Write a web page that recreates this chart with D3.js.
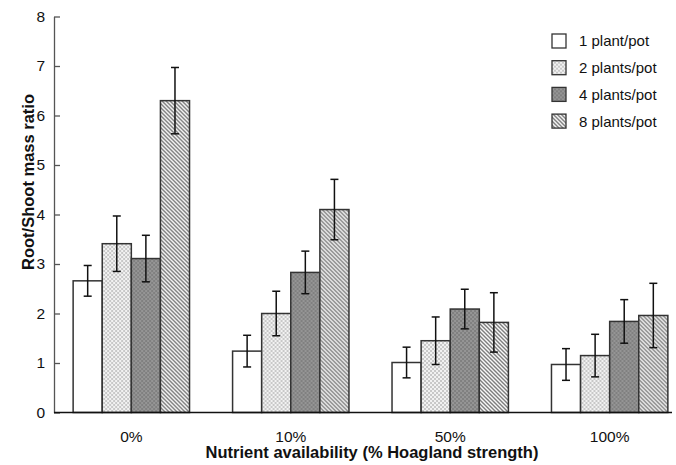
<!DOCTYPE html>
<html>
<head>
<meta charset="utf-8">
<script src="https://cdn.jsdelivr.net/npm/d3@7"></script>
<style>
  body { margin: 0; background: #fff; }
  svg { display: block; font-family: "Liberation Sans", Arial, sans-serif; }
</style>
</head>
<body>
<div id="chart"></div>
<script>
const categories = ["0%", "10%", "50%", "100%"];
const seriesNames = ["1 plant/pot", "2 plants/pot", "4 plants/pot", "8 plants/pot"];
const onePlant = [2.66, 1.24, 1.01, 0.97];
const onePlantErr = [0.31, 0.32, 0.31, 0.32];
const twoPlants = [3.41, 2.00, 1.45, 1.15];
const twoPlantsErr = [0.56, 0.45, 0.48, 0.43];
const fourPlants = [3.11, 2.83, 2.09, 1.84];
const fourPlantsErr = [0.47, 0.43, 0.40, 0.44];
const eightPlants = [6.30, 4.10, 1.82, 1.96];
const eightPlantsErr = [0.67, 0.61, 0.60, 0.65];
const yTicks = [0, 1, 2, 3, 4, 5, 6, 7, 8];

const means = [onePlant, twoPlants, fourPlants, eightPlants];
const errs = [onePlantErr, twoPlantsErr, fourPlantsErr, eightPlantsErr];

const width = 676, height = 465;
const axisX = 54;

const svg = d3.select("#chart").append("svg")
    .attr("width", width)
    .attr("height", height);

// fills
const defs = svg.append("defs");

const light = defs.append("pattern").attr("id", "light")
    .attr("patternUnits", "userSpaceOnUse").attr("width", 4).attr("height", 4);
light.append("rect").attr("width", 4).attr("height", 4).attr("fill", "#f2f2f2");
light.append("rect").attr("width", 2).attr("height", 2).attr("fill", "#c8c8c8");
light.append("rect").attr("x", 2).attr("y", 2).attr("width", 2).attr("height", 2).attr("fill", "#c8c8c8");

const dark = defs.append("pattern").attr("id", "dark")
    .attr("patternUnits", "userSpaceOnUse").attr("width", 4).attr("height", 4);
dark.append("rect").attr("width", 4).attr("height", 4).attr("fill", "#959595");
dark.append("rect").attr("width", 2).attr("height", 2).attr("fill", "#808080");
dark.append("rect").attr("x", 2).attr("y", 2).attr("width", 2).attr("height", 2).attr("fill", "#808080");

const hatch = defs.append("pattern").attr("id", "hatch")
    .attr("patternUnits", "userSpaceOnUse").attr("width", 4).attr("height", 4);
hatch.append("rect").attr("width", 4).attr("height", 4).attr("fill", "#fafafa");
hatch.append("path")
    .attr("d", "M-1,-1L5,5M3,-1L5,1M-1,3L1,5")
    .attr("stroke", "#7c7c7c").attr("stroke-width", 1.4);

const fills = ["#fff", "url(#light)", "url(#dark)", "url(#hatch)"];

const y = d3.scaleLinear().domain([0, 8]).range([412.5, 16.5]);

const x = d3.scaleBand()
    .domain(categories)
    .range([axisX, 687])
    .paddingInner(0.27)
    .paddingOuter(0.12);

const xs = d3.scaleBand()
    .domain(seriesNames)
    .range([0, x.bandwidth()]);

// bars
const groups = svg.append("g").selectAll("g")
    .data(categories)
    .join("g")
    .attr("transform", d => `translate(${x(d)},0)`);

groups.selectAll("rect")
    .data((d, i) => seriesNames.map((s, j) => ({ s, j, v: means[j][i], e: errs[j][i] })))
    .join("rect")
    .attr("x", d => xs(d.s))
    .attr("y", d => y(d.v))
    .attr("width", xs.bandwidth())
    .attr("height", d => y(0) - y(d.v))
    .attr("fill", d => fills[d.j])
    .attr("stroke", "#333")
    .attr("stroke-width", 1.5);

// error bars
const eb = groups.selectAll("g.err")
    .data((d, i) => seriesNames.map((s, j) => ({ s, j, v: means[j][i], e: errs[j][i] })))
    .join("g")
    .attr("class", "err")
    .attr("stroke", "#111")
    .attr("stroke-width", 1.5);

const cap = 4;
eb.append("line")
    .attr("x1", d => xs(d.s) + xs.bandwidth() / 2)
    .attr("x2", d => xs(d.s) + xs.bandwidth() / 2)
    .attr("y1", d => y(d.v + d.e))
    .attr("y2", d => y(d.v - d.e));
eb.append("line")
    .attr("x1", d => xs(d.s) + xs.bandwidth() / 2 - cap)
    .attr("x2", d => xs(d.s) + xs.bandwidth() / 2 + cap)
    .attr("y1", d => y(d.v + d.e))
    .attr("y2", d => y(d.v + d.e));
eb.append("line")
    .attr("x1", d => xs(d.s) + xs.bandwidth() / 2 - cap)
    .attr("x2", d => xs(d.s) + xs.bandwidth() / 2 + cap)
    .attr("y1", d => y(d.v - d.e))
    .attr("y2", d => y(d.v - d.e));

// y axis
const yAxis = svg.append("g")
    .attr("transform", `translate(${axisX},0)`)
    .call(d3.axisLeft(y).tickValues(yTicks).tickSize(-6).tickSizeOuter(0).tickPadding(9));
yAxis.select(".domain").attr("stroke", "#555").attr("stroke-width", 1.3);
yAxis.selectAll(".tick line").attr("stroke", "#555").attr("stroke-width", 1.3);
yAxis.selectAll(".tick text")
    .attr("font-size", 15.5)
    .attr("font-family", "Liberation Sans, Arial, sans-serif")
    .attr("fill", "#111");

// x axis
const xAxis = svg.append("g")
    .attr("transform", `translate(0,${y(0)})`)
    .call(d3.axisBottom(x).tickSize(0).tickPadding(18));
xAxis.select(".domain").remove();
xAxis.selectAll(".tick text")
    .attr("font-size", 15.5)
    .attr("font-family", "Liberation Sans, Arial, sans-serif")
    .attr("fill", "#111");

svg.append("line")
    .attr("x1", axisX).attr("x2", 672)
    .attr("y1", y(0)).attr("y2", y(0))
    .attr("stroke", "#111").attr("stroke-width", 1.5);

// titles
svg.append("text")
    .attr("x", 372).attr("y", 458)
    .attr("text-anchor", "middle")
    .attr("font-size", 16.5).attr("font-weight", "bold")
    .attr("fill", "#111")
    .text("Nutrient availability (% Hoagland strength)");

svg.append("text")
    .attr("transform", "translate(34,182) rotate(-90)")
    .attr("text-anchor", "middle")
    .attr("font-size", 16.5).attr("font-weight", "bold")
    .attr("fill", "#111")
    .text("Root/Shoot mass ratio");

// legend
const legend = svg.append("g").selectAll("g")
    .data(seriesNames)
    .join("g")
    .attr("transform", (d, i) => `translate(552,${41 + i * 26.7})`);

legend.append("rect")
    .attr("x", 0).attr("y", -7)
    .attr("width", 14).attr("height", 14)
    .attr("fill", (d, i) => fills[i])
    .attr("stroke", "#333").attr("stroke-width", 1.3);

legend.append("text")
    .attr("x", 27).attr("y", 0)
    .attr("dy", "0.36em")
    .attr("font-size", 15)
    .attr("fill", "#111")
    .text(d => d);
</script>
</body>
</html>
